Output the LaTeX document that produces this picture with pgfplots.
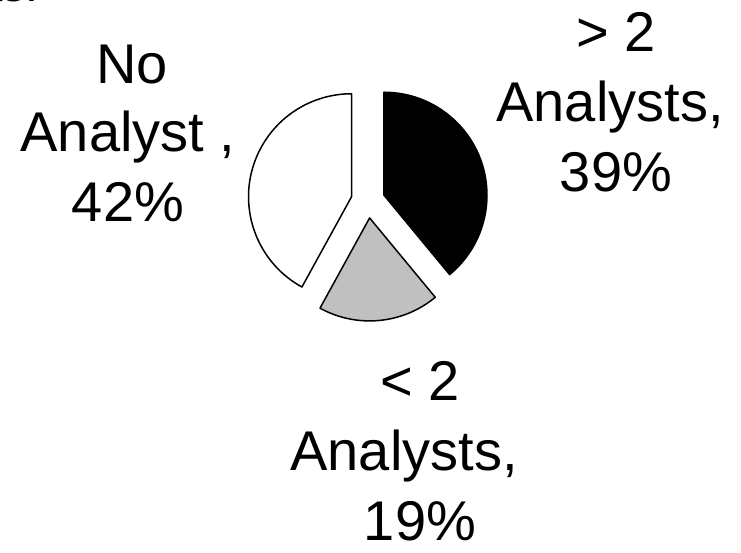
\documentclass[border=0pt]{standalone}
\usepackage{pgfplots}
\pgfplotsset{compat=1.18}
\usepackage{fontspec}
\setmainfont{Liberation Sans}
\usetikzlibrary{calc}
\definecolor{slicegray}{RGB}{192,192,192}
\begin{document}
\begin{tikzpicture}
\useasboundingbox (0,0) rectangle (741pt,552pt);
\clip (0,0) rectangle (741pt,552pt);
% pie data (percent): >2 Analysts 39, <2 Analysts 19, No Analyst 42
\def\vA{39}\def\vB{19}\def\vC{42}
\pgfmathsetmacro{\aA}{90}
\pgfmathsetmacro{\aB}{\aA-3.6*\vA}
\pgfmathsetmacro{\aC}{\aB-3.6*\vB}
\pgfmathsetmacro{\aD}{\aC-3.6*\vC}
\pgfmathsetmacro{\mA}{(\aA+\aB)/2}
\pgfmathsetmacro{\mB}{(\aB+\aC)/2}
\pgfmathsetmacro{\mC}{(\aC+\aD)/2}
\begin{axis}[x=1pt,y=1pt,xmin=0,xmax=741,ymin=0,ymax=552,hide axis,scale only axis,clip=false]
\filldraw[fill=black,draw=black,line width=1.5pt,line join=round]
  ($(axis cs:368,351)+(\mA:17pt)$) -- ++(\aA:103pt) arc[start angle=\aA,end angle=\aB,radius=103pt] -- cycle;
\filldraw[fill=slicegray,draw=black,line width=1.5pt,line join=round]
  ($(axis cs:368,351)+(\mB:17pt)$) -- ++(\aB:103pt) arc[start angle=\aB,end angle=\aC,radius=103pt] -- cycle;
\filldraw[fill=white,draw=black,line width=1.5pt,line join=round]
  ($(axis cs:368,351)+(\mC:17pt)$) -- ++(\aC:103pt) arc[start angle=\aC,end angle=\aD,radius=103pt] -- cycle;
\tikzset{lbl/.style={anchor=base,inner sep=0pt,font=\fontsize{56}{64}\selectfont}}
% left
\node[lbl] at (axis cs:132,468) {No};
\node[lbl] at (axis cs:128,400) {Analyst ,};
\node[lbl] at (axis cs:128,330) {42\%};
% right
\node[lbl] at (axis cs:616,500) {> 2};
\node[lbl] at (axis cs:610,430) {Analysts,};
\node[lbl] at (axis cs:616,360) {39\%};
% bottom
\node[lbl] at (axis cs:420,152) {< 2};
\node[lbl] at (axis cs:404,82) {Analysts,};
\node[lbl] at (axis cs:420,12) {19\%};
% cropped fragment at top-left
\node[anchor=base west,inner sep=0pt,font=\fontsize{46}{50}\selectfont] at (axis cs:-10,550) {ts.};
\end{axis}
\end{tikzpicture}
\end{document}
